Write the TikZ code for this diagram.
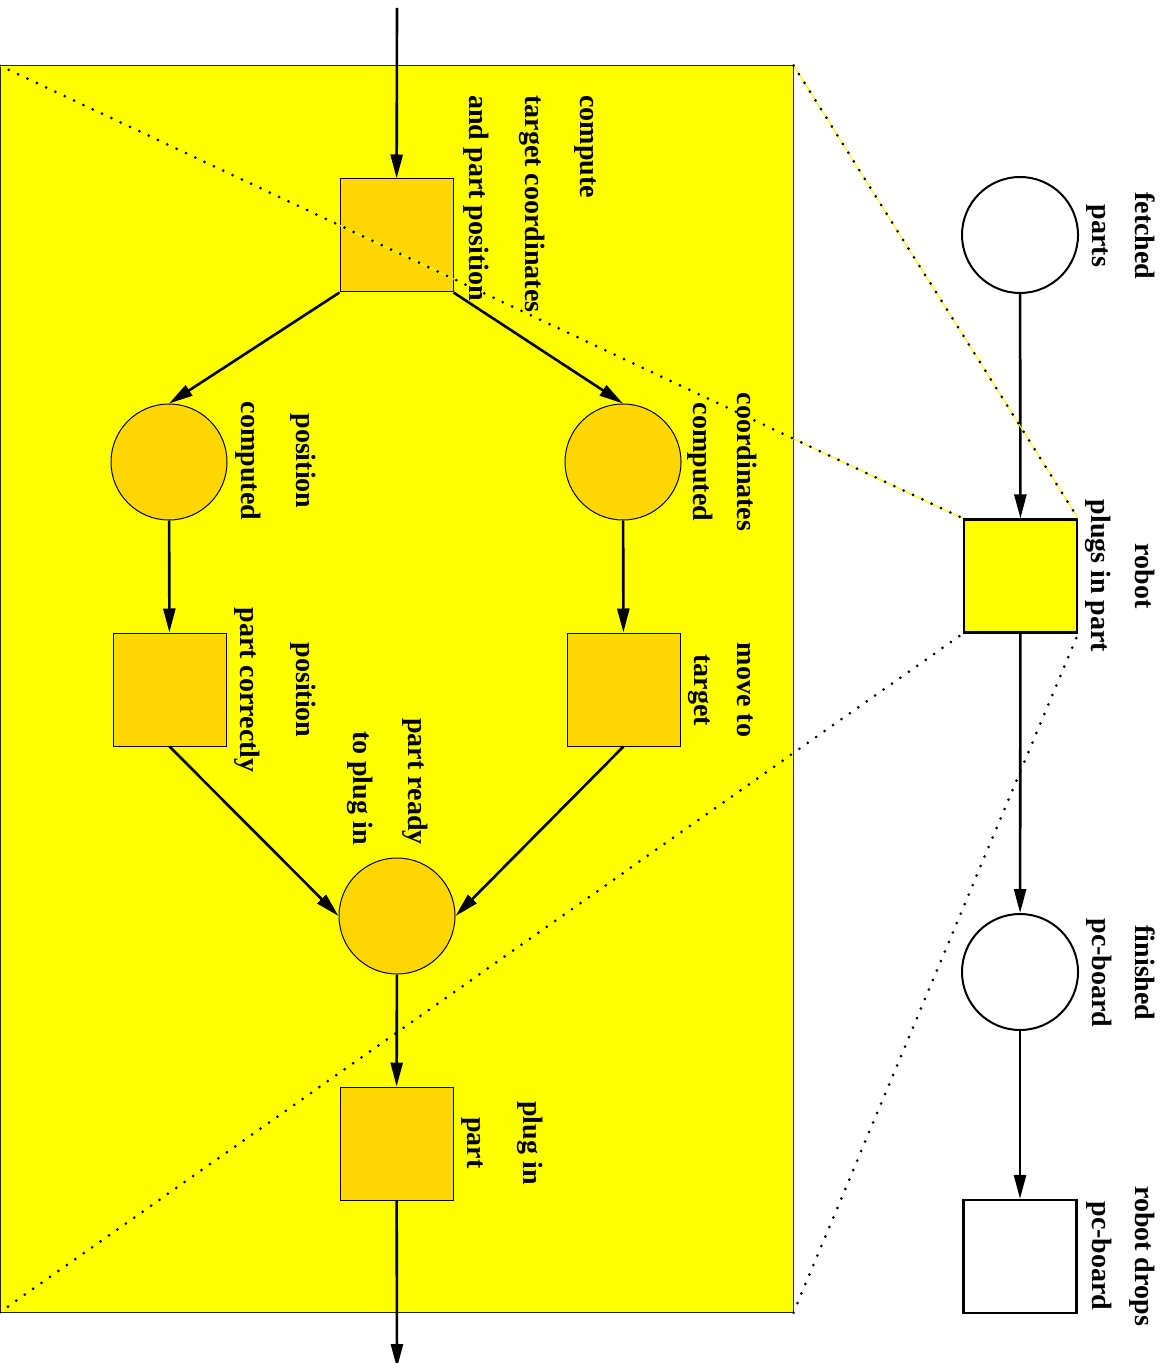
\documentclass[tikz,border=0pt]{standalone}
\usepackage{fontspec}
\setmainfont{Liberation Serif}
\usetikzlibrary{arrows.meta}
\definecolor{netyellow}{HTML}{FFFF00}
\definecolor{netgold}{HTML}{FFD700}

\begin{document}
\begin{tikzpicture}[x=0.5pt,y=-0.5pt,
  place/.style={circle, draw, line width=1pt, minimum size=58pt, inner sep=0pt},
  trans/.style={rectangle, draw, line width=1.1pt, minimum size=56.5pt, inner sep=0pt},
  subplace/.style={place, fill=netgold, line width=0.5pt},
  subtrans/.style={trans, fill=netgold, line width=0.5pt},
  flow/.style={line width=1.3pt, -{Triangle[length=12pt,width=6pt]}},
  zoomline/.style={line width=1.5pt, line cap=round, dash pattern=on 0pt off 5.15pt},
  zoomunder/.style={line width=0.5pt, netyellow},
  lbl/.style={rotate=-90, font=\bfseries\fontsize{14}{17}\selectfont, inner sep=0pt, anchor=base}
]
\useasboundingbox (0,0) rectangle (1164,1363);

% refined subnet area
\node[rectangle, draw=black!85, line width=0.5pt, fill=netyellow,
      minimum width=396.5pt, minimum height=623pt, inner sep=0pt] (subnet) at (396.5,689) {};

% top-level net
\node[place] (fetched) at (1020,235) {};
\node[trans, fill=netyellow] (robot) at (1020.5,576) {};
\node[place] (finished) at (1020,972) {};
\node[trans] (drops) at (1020,1256.5) {};

% refinement of "robot plugs in part"
\node[subtrans] (compute) at (396.5,235.5) {};
\node[subplace] (coordc) at (623,462) {};
\node[subplace] (posc) at (169,462) {};
\node[subtrans] (move) at (623.5,689.5) {};
\node[subtrans] (posit) at (169.5,689.5) {};
\node[subplace] (ready) at (397,916) {};
\node[subtrans] (plugin) at (396.5,1143.5) {};

\coordinate (inflow) at (397,8);
\coordinate (outflow) at (397,1368);

% arcs
\draw[flow] (fetched) -- (robot);
\draw[flow] (robot) -- (finished);
\draw[flow] (finished) -- (drops);

\draw[flow] (inflow) -- (compute);
\draw[flow] (compute.south west) -- (posc.north);
\draw[flow] (compute.south east) -- (coordc.north);
\draw[flow] (posc) -- (posit);
\draw[flow] (coordc) -- (move);
\draw[flow] (posit.south) -- (ready.west);
\draw[flow] (move.south) -- (ready.east);
\draw[flow] (ready) -- (plugin);
\draw[flow] (plugin) -- (outflow);

% zoom lines from the transition to the refined area
\draw[zoomunder] (subnet.north west) -- (robot.north west);
\draw[zoomunder] (subnet.north east) -- (robot.north east);
\draw[zoomline] (subnet.north west) -- (robot.north west);
\draw[zoomline] (subnet.north east) -- (robot.north east);
\draw[zoomline] (subnet.south west) -- (robot.south west);
\draw[zoomline] (subnet.south east) -- (robot.south east);

% labels of the top-level net
\node[lbl] (lfetchedA) at (1135,236) {fetched};
\node[lbl] (lfetchedB) at (1092,236) {parts};
\node[lbl] (lrobotA) at (1135,576) {robot};
\node[lbl] (lrobotB) at (1091,576) {plugs in part};
\node[lbl] (lfinishedA) at (1135,973) {finished};
\node[lbl] (lfinishedB) at (1092,973) {pc-board};
\node[lbl] (ldropsA) at (1135,1256) {robot drops};
\node[lbl] (ldropsB) at (1092,1256) {pc-board};

% labels of the refined net
\node[lbl, anchor=base west] (lcomputeA) at (580,95) {compute};
\node[lbl, anchor=base west] (lcomputeB) at (525,95) {target coordinates};
\node[lbl, anchor=base west] (lcomputeC) at (469,95) {and part position};
\node[lbl] (lcoordA) at (737,462) {coordinates};
\node[lbl] (lcoordB) at (693,462) {computed};
\node[lbl] (lmoveA) at (737,690) {move to};
\node[lbl] (lmoveB) at (694,690) {target};
\node[lbl] (lposA) at (296,461) {position};
\node[lbl] (lposB) at (241,461) {computed};
\node[lbl] (lpositA) at (296,690) {position};
\node[lbl] (lpositB) at (240,690) {part correctly};
\node[lbl, anchor=base east] (lreadyA) at (408,845) {part ready};
\node[lbl, anchor=base east] (lreadyB) at (353,845) {to plug in};
\node[lbl] (lpluginA) at (523,1143) {plug in};
\node[lbl] (lpluginB) at (467,1143) {part};
\end{tikzpicture}
\end{document}
